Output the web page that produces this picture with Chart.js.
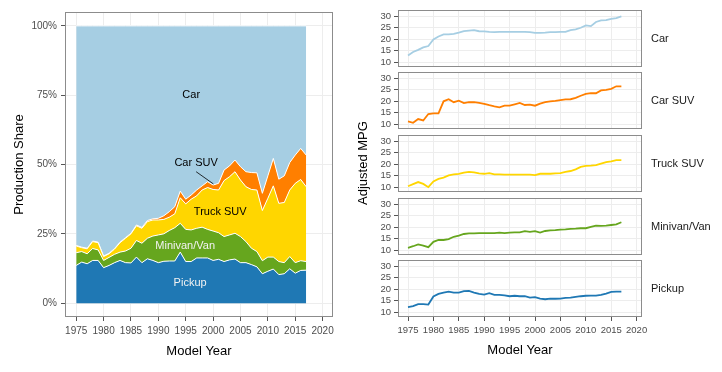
<!DOCTYPE html>
<html lang="en">
<head>
<meta charset="UTF-8">
<title>Production share and adjusted MPG by vehicle type</title>
<script src="https://cdn.jsdelivr.net/npm/chart.js"></script>
<style>
  body { margin: 0; background: #fff; font-family: "Liberation Sans", Arial, sans-serif; }
  #wrap { position: relative; width: 722px; height: 372px; overflow: hidden; }
  #wrap canvas { position: absolute; }
  #mpgTitle {
    position: absolute; left: 263px; top: 155px; width: 200px; line-height: 16px;
    text-align: center; font-size: 13px; color: #000; transform: rotate(-90deg);
  }
</style>
</head>
<body>
<div id="wrap">
  <canvas id="shareChart" width="360" height="372" style="left:0;top:0"></canvas>
  <div id="mpgTitle">Adjusted MPG</div>
</div>

<script>
  // model years and axis ticks
  const years = [1975, 1976, 1977, 1978, 1979, 1980, 1981, 1982, 1983, 1984, 1985, 1986, 1987, 1988,
                 1989, 1990, 1991, 1992, 1993, 1994, 1995, 1996, 1997, 1998, 1999, 2000, 2001, 2002,
                 2003, 2004, 2005, 2006, 2007, 2008, 2009, 2010, 2011, 2012, 2013, 2014, 2015, 2016, 2017];
  const yearTicks = [1975, 1980, 1985, 1990, 1995, 2000, 2005, 2010, 2015, 2020];
  const shareTicks = [0, 25, 50, 75, 100];
  const mpgTicks = [10, 15, 20, 25, 30];

  // production share (%) by vehicle type
  const pickupShare = [13.6, 14.8, 14.2, 15.4, 15.4, 12.8, 13.6, 14.6, 15.4, 14.6, 14.5, 16.6, 14.6, 16.0,
                       15.4, 14.6, 15.1, 15.2, 15.2, 18.4, 15.0, 15.0, 16.3, 16.3, 16.3, 15.4, 15.8, 15.0,
                       15.6, 15.9, 14.6, 14.6, 13.9, 13.1, 10.6, 11.5, 12.3, 10.3, 10.6, 12.4, 10.8, 11.8, 11.9];
  const minivanShare = [4.6, 3.8, 3.6, 4.3, 3.8, 2.6, 2.9, 3.0, 3.0, 4.2, 5.3, 6.0, 7.0, 7.4,
                        8.8, 10.0, 9.9, 11.0, 12.0, 10.4, 11.6, 11.4, 10.7, 11.1, 10.3, 10.6, 9.6, 9.0,
                        9.0, 9.3, 9.4, 7.6, 5.9, 5.5, 4.7, 5.1, 4.3, 4.7, 4.0, 4.4, 3.8, 3.5, 3.1];
  const truckSuvShare = [2.4, 1.4, 1.8, 2.5, 2.6, 1.4, 1.3, 1.9, 3.4, 4.6, 5.2, 5.3, 5.4, 6.0,
                         5.8, 5.4, 5.2, 4.8, 5.0, 9.2, 9.2, 11.1, 11.7, 13.4, 15.1, 15.0, 15.4, 20.2,
                         21.0, 22.2, 20.4, 19.8, 21.2, 22.2, 18.1, 21.2, 25.7, 21.0, 21.7, 24.0, 28.6, 29.3, 27.0];
  const carSuvShare = [0.2, 0.2, 0.2, 0.2, 0.2, 0.2, 0.2, 0.2, 0.2, 0.2, 0.2, 0.3, 0.3, 0.4,
                       0.4, 0.6, 1.3, 2.0, 2.6, 2.4, 1.7, 1.5, 2.1, 1.5, 2.1, 1.6, 2.4, 3.8,
                       3.9, 4.2, 4.8, 5.4, 6.1, 6.2, 6.2, 8.1, 9.9, 8.7, 9.6, 9.9, 10.2, 11.2, 11.4];
  const carShare = [79.2, 79.8, 80.2, 77.6, 78.0, 83.0, 82.0, 80.3, 78.0, 76.4, 74.8, 71.8, 72.7, 70.2,
                    69.6, 69.4, 68.5, 67.0, 65.2, 59.6, 62.5, 61.0, 59.2, 57.7, 56.2, 57.4, 56.8, 52.0,
                    50.5, 48.4, 50.8, 52.6, 52.9, 53.0, 60.4, 54.1, 47.8, 55.3, 54.1, 49.3, 46.6, 44.2, 46.6];

  // adjusted MPG by vehicle type
  const carMpg = [12.9, 14.4, 15.3, 16.4, 17.0, 19.8, 21.1, 22.0, 22.0, 22.3, 22.8, 23.4, 23.7, 23.9,
                  23.4, 23.3, 23.1, 23.0, 23.1, 23.1, 23.1, 23.1, 23.1, 23.1, 23.0, 22.7, 22.7, 22.8,
                  23.0, 23.0, 23.1, 23.1, 23.9, 24.2, 24.9, 25.9, 25.6, 27.4, 28.1, 28.2, 28.8, 29.1, 29.8];
  const carSuvMpg = [11.2, 10.6, 12.2, 11.6, 14.4, 14.7, 14.7, 19.9, 20.8, 19.5, 20.2, 19.1, 19.5, 19.5,
                     19.2, 18.8, 18.2, 17.7, 17.3, 18.0, 18.0, 18.6, 19.2, 18.3, 18.5, 18.0, 18.9, 19.5,
                     19.9, 20.1, 20.4, 20.7, 20.8, 21.4, 22.3, 23.1, 23.4, 23.4, 24.6, 24.9, 25.3, 26.4, 26.4];
  const truckSuvMpg = [10.4, 11.3, 12.2, 11.4, 10.0, 12.5, 13.6, 14.1, 15.1, 15.5, 15.8, 16.3, 16.6, 16.4,
                       16.0, 15.8, 16.1, 15.5, 15.5, 15.4, 15.4, 15.4, 15.4, 15.4, 15.4, 15.2, 15.8, 15.8,
                       15.8, 16.0, 16.1, 16.6, 17.0, 17.7, 18.8, 19.2, 19.3, 19.5, 20.2, 20.8, 21.2, 21.7, 21.7];
  const minivanMpg = [11.0, 11.7, 12.5, 12.0, 11.3, 13.6, 14.4, 14.4, 14.8, 15.8, 16.3, 17.0, 17.3, 17.3,
                      17.4, 17.4, 17.4, 17.4, 17.6, 17.4, 17.6, 17.7, 17.7, 18.2, 17.9, 18.2, 17.6, 18.3,
                      18.6, 18.7, 18.9, 19.0, 19.2, 19.3, 19.5, 19.5, 20.1, 20.6, 20.5, 20.6, 20.9, 21.2, 22.1];
  const pickupMpg = [12.2, 12.6, 13.5, 13.5, 13.3, 16.8, 17.9, 18.5, 18.9, 18.5, 18.5, 19.1, 19.2, 18.5,
                     17.9, 17.6, 18.2, 17.5, 17.5, 17.3, 16.9, 17.1, 16.9, 16.9, 16.3, 16.5, 15.9, 15.6,
                     15.9, 15.8, 15.9, 16.2, 16.3, 16.6, 16.9, 17.1, 17.2, 17.2, 17.5, 18.0, 18.8, 18.9, 18.9];

  const colors = {
    'Car': '#a6cee3',
    'Car SUV': '#ff7f00',
    'Truck SUV': '#ffd600',
    'Minivan/Van': '#66a61e',
    'Pickup': '#1f78b4'
  };

  // text labels placed on the share chart, in data units
  const shareLabels = [
    { text: 'Car', x: 1996, y: 75, color: '#000' },
    { text: 'Car SUV', x: 1996.9, y: 50.6, color: '#000' },
    { text: 'Truck SUV', x: 2001.3, y: 32.8, color: '#000' },
    { text: 'Minivan/Van', x: 1994.9, y: 20.7, color: '#f2f2f2' },
    { text: 'Pickup', x: 1995.8, y: 7.2, color: '#f2f2f2' }
  ];
  const carSuvPointer = { x1: 1996.9, y1: 47.4, x2: 2000.05, y2: 43 };

  const gridColor = '#ededed';
  const tickColor = '#555';
  const tickLabelColor = '#4d4d4d';
  const borderColor = '#8c8c8c';

  Chart.defaults.font.family = '"Liberation Sans", Arial, sans-serif';

  const panelBox = {
    id: 'panelBox',
    afterDraw(chart) {
      const { ctx, chartArea: a } = chart;
      ctx.save();
      ctx.strokeStyle = borderColor;
      ctx.lineWidth = 1;
      ctx.strokeRect(Math.round(a.left) + 0.5, Math.round(a.top) + 0.5,
                     Math.round(a.width) - 1, Math.round(a.height) - 1);
      ctx.restore();
    }
  };

  const shareText = {
    id: 'shareText',
    afterDatasetsDraw(chart) {
      const { ctx, scales: { x, y } } = chart;
      ctx.save();
      ctx.font = '11px "Liberation Sans", Arial, sans-serif';
      ctx.textAlign = 'center';
      ctx.textBaseline = 'middle';
      shareLabels.forEach(l => {
        ctx.fillStyle = l.color;
        ctx.fillText(l.text, x.getPixelForValue(l.x), y.getPixelForValue(l.y));
      });
      ctx.strokeStyle = '#000';
      ctx.lineWidth = 0.8;
      ctx.beginPath();
      ctx.moveTo(x.getPixelForValue(carSuvPointer.x1), y.getPixelForValue(carSuvPointer.y1));
      ctx.lineTo(x.getPixelForValue(carSuvPointer.x2), y.getPixelForValue(carSuvPointer.y2));
      ctx.stroke();
      ctx.restore();
    }
  };

  function yearAxis(showLabels, titlePad) {
    const axis = {
      type: 'linear',
      afterBuildTicks: s => { s.ticks = yearTicks.map(v => ({ value: v })); },
      grid: { color: gridColor, tickColor: tickColor, tickLength: 4, drawTicks: showLabels },
      border: { display: false },
      ticks: { display: showLabels, color: tickLabelColor, padding: 4, maxRotation: 0, autoSkip: false,
               callback: v => String(v) },
      title: { display: showLabels, text: 'Model Year', color: '#000', font: { size: 13 },
               padding: { top: 0, bottom: titlePad } }
    };
    axis.afterFit = s => { s.height = showLabels ? 55 : 0; };
    return axis;
  }

  // left: stacked production share
  const shareSeries = [
    { name: 'Pickup', values: pickupShare },
    { name: 'Minivan/Van', values: minivanShare },
    { name: 'Truck SUV', values: truckSuvShare },
    { name: 'Car SUV', values: carSuvShare },
    { name: 'Car', values: carShare }
  ];

  const shareX = yearAxis(true, 12.7);
  shareX.min = 1972.95;
  shareX.max = 2021.9;
  shareX.ticks.font = { size: 10 };

  new Chart(document.getElementById('shareChart'), {
    type: 'line',
    data: {
      datasets: shareSeries.map((s, i) => ({
        label: s.name,
        data: years.map((yr, k) => ({ x: yr, y: s.values[k] })),
        backgroundColor: colors[s.name],
        borderColor: '#ffffff',
        borderWidth: 1,
        fill: i === 0 ? 'origin' : '-1',
        pointRadius: 0,
        tension: 0
      }))
    },
    options: {
      responsive: false,
      animation: false,
      layout: { padding: { top: 12, right: 27, bottom: 0, left: 0 } },
      plugins: { legend: { display: false }, tooltip: { enabled: false } },
      scales: {
        x: shareX,
        y: {
          stacked: true,
          min: -5,
          max: 105,
          afterBuildTicks: s => { s.ticks = shareTicks.map(v => ({ value: v })); },
          afterFit: s => { s.width = 65; },
          grid: { color: gridColor, tickColor: tickColor, tickLength: 4 },
          border: { display: false },
          ticks: { color: tickLabelColor, font: { size: 10 }, padding: 4, autoSkip: false,
                   callback: v => v + '%' },
          title: { display: true, text: 'Production Share', color: '#000', font: { size: 13 },
                   padding: { top: 12, bottom: 0 } }
        }
      }
    },
    plugins: [panelBox, shareText]
  });

  // right: adjusted MPG small multiples
  const mpgSeries = [
    { name: 'Car', values: carMpg },
    { name: 'Car SUV', values: carSuvMpg },
    { name: 'Truck SUV', values: truckSuvMpg },
    { name: 'Minivan/Van', values: minivanMpg },
    { name: 'Pickup', values: pickupMpg }
  ];
  const panelTops = [10, 72, 135, 198, 260];
  const panelHeight = 57;
  const wrap = document.getElementById('wrap');

  mpgSeries.forEach((s, i) => {
    const last = i === mpgSeries.length - 1;
    const canvas = document.createElement('canvas');
    const top = panelTops[i] - 10;
    const height = last ? 372 - top : panelHeight + 20;
    canvas.width = 362;
    canvas.height = height;
    canvas.style.left = '360px';
    canvas.style.top = top + 'px';
    wrap.appendChild(canvas);

    const stripLabel = {
      id: 'stripLabel',
      afterDraw(chart) {
        const { ctx, chartArea: a } = chart;
        ctx.save();
        ctx.font = '11px "Liberation Sans", Arial, sans-serif';
        ctx.fillStyle = '#1a1a1a';
        ctx.textAlign = 'left';
        ctx.textBaseline = 'middle';
        ctx.fillText(s.name, a.right + 9, (a.top + a.bottom) / 2);
        ctx.restore();
      }
    };

    const xAxis = yearAxis(last, 13.5);
    xAxis.min = 1973.03;
    xAxis.max = 2021.06;
    xAxis.ticks.font = { size: 9.5 };

    new Chart(canvas, {
      type: 'line',
      data: {
        datasets: [{
          label: s.name,
          data: years.map((yr, k) => ({ x: yr, y: s.values[k] })),
          borderColor: colors[s.name],
          borderWidth: 1.8,
          pointRadius: 0,
          fill: false,
          tension: 0
        }]
      },
      options: {
        responsive: false,
        animation: false,
        layout: { padding: { top: 10, right: 80, bottom: last ? 0 : 10, left: 0 } },
        plugins: { legend: { display: false }, tooltip: { enabled: false } },
        scales: {
          x: xAxis,
          y: {
            min: 7.9,
            max: 32.6,
            afterBuildTicks: sc => { sc.ticks = mpgTicks.map(v => ({ value: v })); },
            afterFit: sc => { sc.width = 38; },
            grid: { color: gridColor, tickColor: tickColor, tickLength: 4 },
            border: { display: false },
            ticks: { color: tickLabelColor, font: { size: 9.5 }, padding: 3, autoSkip: false }
          }
        }
      },
      plugins: [panelBox, stripLabel]
    });
  });
</script>
</body>
</html>
